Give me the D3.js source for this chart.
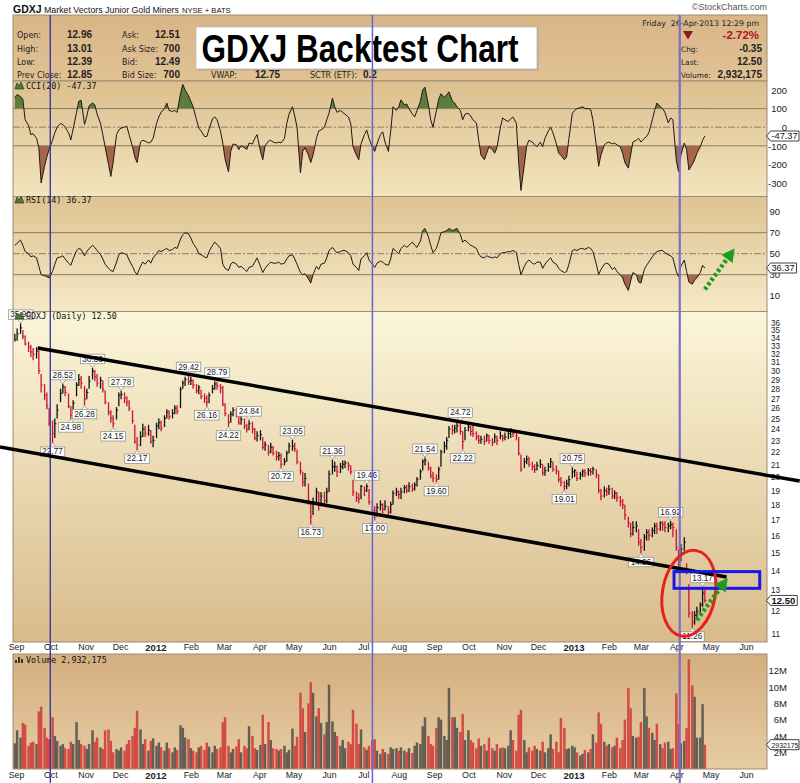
<!DOCTYPE html>
<html>
<head>
<meta charset="utf-8">
<script src="https://cdn.jsdelivr.net/npm/d3@7/dist/d3.min.js"></script>
<style>
html,body{margin:0;padding:0;background:#fff;}
svg{display:block;}
</style>
</head>
<body>
<svg id="chart" width="800" height="783"></svg>
<script>
// ================= DATA =================
// samples every Mon / Wed / Fri from firstDay to lastDay
const firstDay = "2011-08-31";
const lastDay  = "2013-04-26";

const closeP = [
33.8,34.5,35.3,34.2,33.2,32.8,32.2,31.9,32.3,30.0,28.4,27.3,26.2,24.6,
23.6,24.5,25.8,27.5,28.2,27.6,26.2,25.3,26.5,28.4,29.0,28.6,26.9,
27.6,28.8,29.9,29.3,28.6,28.9,27.9,26.6,25.6,25.0,24.5,25.8,27.3,
27.4,27.0,26.6,26.0,24.8,22.9,22.6,23.3,24.0,23.6,23.9,22.9,23.0,
24.3,24.6,24.1,25.0,25.6,25.2,25.5,26.0,25.7,27.9,28.6,29.0,28.8,
28.9,28.4,27.8,28.1,27.2,27.0,26.6,27.3,28.0,28.5,28.3,28.1,26.4,
25.5,24.6,25.4,25.8,25.6,24.6,24.9,24.3,24.0,24.5,24.0,23.2,23.4,
23.5,22.4,22.6,22.0,22.4,21.9,21.6,21.7,21.0,21.2,21.9,22.5,22.5,
22.3,21.2,20.5,19.6,19.9,18.3,17.2,18.2,18.9,18.0,18.6,18.3,18.9,
20.2,20.8,20.8,20.4,20.8,21.0,21.1,20.9,20.4,18.9,18.5,18.4,19.3,
19.0,19.3,18.2,17.6,17.4,17.8,18.0,17.7,17.9,17.5,18.0,18.8,18.9,
18.7,18.9,19.2,19.0,19.3,19.1,19.4,19.8,20.4,21.2,21.3,20.7,20.1,19.9,
19.8,20.6,22.0,22.5,23.0,24.0,23.9,24.1,24.3,23.8,22.9,23.9,
24.2,23.8,23.6,23.3,23.0,23.1,22.9,23.4,23.0,22.8,23.3,23.0,23.4,23.2,
23.3,23.6,23.8,23.6,23.4,21.9,20.6,21.2,21.4,21.0,20.8,20.6,20.9,
21.0,20.3,20.5,20.8,21.2,20.6,20.5,19.8,19.6,19.3,19.5,19.8,20.4,
20.5,19.9,20.2,20.4,20.3,20.5,20.4,20.6,20.2,19.0,18.6,19.0,18.9,
19.1,18.6,18.8,18.5,18.2,18.0,17.3,16.8,16.1,16.5,16.6,15.6,
15.3,15.9,16.2,16.0,16.3,16.6,16.4,16.8,16.7,16.5,16.6,16.7,16.5,
15.3,14.5,15.2,15.6,14.0,11.9,11.5,11.8,12.0,12.3,12.85,12.50
];
const highP = [
34.5,35.2,35.9,35.0,34.3,33.5,33.1,32.7,32.8,32.4,29.6,28.5,27.6,26.0,
24.8,25.0,26.4,28.0,28.52,28.3,27.5,26.2,26.8,28.7,29.6,29.4,28.3,
28.0,29.4,30.33,30.1,29.6,29.3,28.9,27.8,26.6,25.8,25.3,26.1,27.6,
27.78,27.6,27.2,26.8,25.8,24.4,23.3,23.8,24.5,24.3,24.4,23.9,23.4,
24.6,25.0,24.8,25.3,25.9,25.8,25.9,26.3,26.3,28.2,28.9,29.3,29.42,
29.3,29.0,28.5,28.4,27.9,27.5,27.3,27.6,28.4,28.8,28.79,28.5,28.3,
26.5,25.4,25.7,26.1,26.0,25.6,25.2,25.0,24.5,24.84,24.7,24.1,23.8,
23.9,23.3,22.9,22.6,22.8,22.5,22.1,22.0,21.9,21.5,22.1,22.8,23.05,
22.8,22.2,21.2,20.4,20.3,19.5,18.2,18.5,19.2,18.9,18.9,18.9,19.2,
20.5,21.36,21.2,20.9,21.1,21.3,21.3,21.2,20.9,19.8,18.9,18.8,19.4,
19.3,19.46,19.1,18.3,17.9,18.1,18.3,18.1,18.3,17.9,18.2,19.0,19.2,
19.0,19.2,19.4,19.4,19.6,19.5,19.6,20.0,20.6,21.4,21.54,21.2,20.8,20.4,
20.2,20.8,22.2,22.9,23.3,24.3,24.4,24.4,24.6,24.72,23.8,24.2,
24.5,24.3,24.5,23.8,23.5,23.4,23.4,23.6,23.5,23.2,23.6,23.4,23.8,23.5,
23.7,23.9,24.1,24.0,23.8,23.3,21.8,21.5,21.7,21.6,21.2,21.0,21.2,
21.4,21.0,20.8,21.1,21.5,21.2,20.9,20.5,20.0,19.7,19.8,20.1,20.75,
20.6,20.4,20.4,20.6,20.6,20.7,20.7,20.8,20.6,20.2,19.1,19.3,19.2,
19.4,19.2,19.0,18.9,18.6,18.4,18.0,17.2,16.8,16.9,16.9,16.4,
15.8,16.1,16.4,16.4,16.5,16.8,16.8,16.9,16.9,16.9,16.8,16.92,16.8,
16.4,15.2,15.5,15.9,14.4,13.3,12.0,12.0,12.2,12.4,13.17,13.01
];
const lowP = [
33.5,33.6,34.5,33.8,33.0,32.2,31.6,31.2,31.4,29.6,27.6,26.8,25.9,24.3,
22.77,23.2,25.0,26.6,27.5,27.2,26.0,24.98,25.4,27.2,28.3,28.0,26.28,
26.9,28.0,29.0,28.8,28.2,28.0,27.6,26.4,25.3,24.6,24.15,24.9,26.2,
26.9,26.5,26.2,25.7,24.5,22.7,22.17,22.5,23.3,23.3,23.4,22.7,22.4,
23.2,24.0,23.8,24.2,25.0,24.9,25.0,25.4,25.4,26.0,28.0,28.3,28.4,
28.4,28.0,27.5,27.4,26.9,26.5,26.16,26.5,27.5,27.9,27.9,27.5,26.2,
25.2,24.22,24.6,25.2,25.1,24.4,24.4,24.0,23.7,23.9,23.6,23.0,22.9,
23.0,22.2,22.1,21.7,21.9,21.7,21.3,21.3,20.72,20.9,21.2,21.9,22.1,
22.0,21.0,20.2,19.3,19.3,18.0,16.73,17.3,18.1,17.6,17.9,18.0,18.1,
18.9,20.2,20.4,20.0,20.3,20.6,20.7,20.5,20.2,18.6,18.2,18.1,18.4,
18.6,18.9,18.0,17.3,17.0,17.2,17.6,17.4,17.6,17.2,17.4,18.0,18.6,
18.4,18.4,18.8,18.8,18.9,18.9,19.0,19.3,19.8,20.5,20.9,20.5,19.9,19.6,
19.6,19.8,20.8,21.9,22.2,23.2,23.5,23.6,23.7,23.5,22.22,23.0,
23.8,23.4,23.3,23.0,22.7,22.7,22.6,22.9,22.7,22.5,22.8,22.6,23.1,22.9,
23.0,23.1,23.2,23.3,23.0,21.7,20.4,20.7,21.0,20.8,20.5,20.3,20.5,
20.7,20.1,20.1,20.4,20.7,20.4,20.2,19.6,19.3,19.01,19.1,19.3,19.9,
20.0,19.7,19.8,20.0,20.0,20.1,20.1,20.2,19.9,18.8,18.3,18.5,18.6,
18.7,18.4,18.4,18.2,17.9,17.7,17.0,16.5,15.9,16.0,16.2,15.4,
14.96,15.1,15.7,15.7,15.9,16.1,16.1,16.3,16.3,16.2,16.2,16.4,15.9,
15.1,14.2,14.5,15.1,13.8,11.7,11.26,11.4,11.6,11.9,12.2,12.39
];
const cciV = [
160,175,165,150,40,10,-40,-35,-60,-110,-300,-210,-160,-120,
-70,-30,0,20,15,0,-30,-68,-10,80,140,145,15,
60,115,130,120,70,20,-40,-105,-200,-265,-190,-40,-15,
-5,0,5,-40,-105,-160,-190,-80,-70,-75,-85,-80,-60,
20,55,80,100,130,90,85,90,80,180,230,200,170,
140,110,40,-5,-20,-50,-50,-10,45,55,40,-20,-85,
-170,-240,-130,-90,-95,-120,-100,-110,-120,-85,-90,-60,-40,
-130,-175,-100,-75,-70,-80,-85,-80,-85,-60,20,70,110,
60,0,-245,-130,-110,-150,-190,-150,-60,-20,-15,0,40,
75,157,110,80,90,80,70,55,20,-105,-150,-175,-90,
-40,-15,-60,-110,-130,-90,-40,-25,-80,-130,-20,110,90,
110,147,120,125,100,70,55,90,140,200,215,120,40,0,
90,150,180,160,175,190,140,130,110,90,40,70,
75,60,40,23,-68,-150,-175,-140,-105,-120,-140,-110,0,50,
40,30,45,55,20,-190,-340,-200,-100,-70,-80,-95,-105,
-80,-105,-60,-20,0,-30,-90,-140,-150,-175,-160,-60,75,
90,100,105,110,100,100,95,40,-100,-210,-150,-95,-85,
-80,-90,-85,-95,-105,-140,-190,-220,-150,-80,-70,-60,
-80,-60,-50,-30,40,90,130,110,100,80,23,50,40,
-180,-240,-150,-85,-120,-230,-200,-175,-140,-105,-70,-47.37
];
const rsiV = [
58,60,63,58,52,50,47,48,46,38,30,29,28,27,
33,40,46,47,48,45,41,39,45,53,55,54,48,
52,55,58,56,53,49,45,40,36,34,33,42,49,
51,50,49,44,38,33,30,38,42,40,44,41,46,
50,53,52,54,55,53,54,56,55,64,68,70,69,
65,60,55,50,49,47,46,52,58,61,59,55,40,
36,34,40,42,40,37,38,35,33,37,38,42,46,
38,32,36,40,42,41,41,42,40,41,45,48,49,
45,40,32,30,31,26,22,30,38,35,40,41,46,
53,56,53,51,52,53,53,51,48,40,37,34,45,
48,51,44,40,37,41,43,42,40,39,45,55,52,
50,55,58,56,58,61,58,56,62,72,74,66,58,51,
55,62,70,71,72,74,72,73,74,68,61,63,
60,58,57,55,50,47,46,48,47,46,47,46,50,51,
51,52,52,53,51,40,30,38,42,44,41,40,42,
42,36,40,44,46,42,40,36,34,32,33,40,53,
54,53,55,55,54,56,55,52,40,30,35,40,41,
40,35,37,33,30,27,21,15,24,32,30,23,
22,35,39,42,47,50,52,53,53,51,49,48,46,
33,28,38,44,33,23,21,25,27,32,39,36.37
];
const volM = [
3.1,4.7,3.8,5.6,5.4,2.8,3.2,3.3,3.0,7.0,7.6,5.0,3.8,3.6,
6.3,4.0,3.4,2.8,3.0,2.5,2.4,3.3,3.0,5.7,3.5,3.0,2.8,
2.4,3.0,4.7,3.3,3.8,2.6,2.4,4.7,4.8,3.4,2.0,2.4,2.2,
2.6,2.2,3.0,3.5,4.0,5.0,7.1,4.8,3.0,3.6,2.2,3.4,3.7,
2.8,3.2,2.6,2.2,3.2,2.5,2.0,2.6,2.3,5.3,5.0,3.8,3.6,
2.5,2.2,2.0,2.6,2.8,2.3,3.2,2.7,2.0,2.8,2.4,2.6,5.7,
6.3,2.8,2.0,2.4,2.7,3.6,2.0,2.8,2.5,5.2,4.0,2.5,2.3,
2.9,6.6,3.0,5.7,3.5,2.5,2.4,2.2,2.4,2.8,2.0,2.3,4.9,
2.8,3.9,9.3,7.4,4.5,8.0,10.6,9.3,6.4,7.4,5.6,4.2,5.7,
10.3,5.8,4.5,4.0,2.8,3.5,2.5,3.3,3.0,7.2,5.5,3.0,4.8,
2.6,2.3,2.8,3.5,3.6,2.2,1.8,2.4,2.0,1.8,2.6,2.4,2.5,
2.2,2.6,2.2,2.0,2.5,1.9,2.8,3.2,3.0,5.2,6.3,4.0,3.0,2.8,
5.0,6.3,6.0,4.0,3.5,9.9,6.3,6.3,5.0,4.5,6.7,3.5,
4.7,3.5,3.2,2.5,3.7,2.8,3.0,2.2,3.8,2.5,2.2,3.0,2.5,2.6,
2.5,2.8,4.7,3.5,2.2,6.6,7.2,3.5,2.0,2.6,2.2,2.8,2.4,
2.2,3.3,2.0,2.5,4.2,2.4,3.3,2.0,6.2,5.0,2.4,2.5,2.8,
2.6,2.0,1.6,1.8,2.3,2.0,2.4,4.2,3.2,6.9,5.5,3.3,2.8,
3.0,2.6,2.8,3.8,2.5,3.5,6.0,9.9,7.4,4.0,3.8,3.9,
5.7,9.9,6.4,5.0,4.4,3.5,5.5,3.0,2.5,3.2,3.3,2.4,2.5,
9.2,5.5,3.1,3.4,5.0,13.4,10.2,8.8,3.8,3.8,7.9,2.93
];

// axis ticks
const cciTicks = [200,100,0,-100,-200,-300];
const rsiTicks = [90,70,50,30,10];
const priceTicks = [11,12,13,14,15,16,17,18,19,20,21,22,23,24,25,26,27,28,29,30,31,32,33,34,35,36];
const volTicks = [2,4,6,8,10,12];
const monthStart = "2011-09-01", monthEnd = "2013-06-01";

// price annotations: date, value, hi/lo
const peakLabels = [
["2011-09-05",35.90,"hi"],["2011-10-03",22.77,"lo"],["2011-10-12",28.52,"hi"],["2011-10-19",24.98,"lo"],
["2011-10-31",26.28,"lo"],["2011-11-07",30.33,"hi"],["2011-11-25",24.15,"lo"],["2011-12-02",27.78,"hi"],
["2011-12-16",22.17,"lo"],["2012-01-30",29.42,"hi"],["2012-02-15",26.16,"lo"],["2012-02-24",28.79,"hi"],
["2012-03-05",24.22,"lo"],["2012-03-23",24.84,"hi"],["2012-04-20",20.72,"lo"],["2012-04-30",23.05,"hi"],
["2012-05-16",16.73,"lo"],["2012-06-04",21.36,"hi"],["2012-07-04",19.46,"hi"],["2012-07-11",17.00,"lo"],
["2012-08-24",21.54,"hi"],["2012-09-03",19.60,"lo"],["2012-09-24",24.72,"hi"],["2012-09-26",22.22,"lo"],
["2012-12-24",19.01,"lo"],["2012-12-31",20.75,"hi"],["2013-03-01",14.96,"lo"],["2013-03-27",16.92,"hi"],
["2013-04-24",13.17,"hi"],["2013-04-15",11.26,"lo"]
];
const markerDates = ["2011-10-01","2012-07-09","2013-04-04"];
const trendUpper = [["2011-09-20",32.7],["2013-07-18",19.7]];
const trendLower = [["2011-08-18",22.42],["2013-05-15",13.67]];
const circleDates = ["2013-03-19","2013-05-06"], circlePrices = [15.15,10.89];
const boxDates = ["2013-03-30","2013-06-13"], boxPrices = [13.95,13.09];
const arrowPrice = [["2013-04-19",11.6],["2013-05-16",13.62]];
const arrowRsi = [["2013-04-26",16],["2013-05-22",55]];

// header quote
const quoteCol1 = [["Open:","12.96"],["High:","13.01"],["Low:","12.39"],["Prev Close:","12.85"]];
const quoteCol2 = [["Ask:","12.51"],["Ask Size:","700"],["Bid:","12.49"],["Bid Size:","700"]];
const quoteRow4 = [["VWAP:","12.75"],["SCTR (ETF):","0.2"]];
const quoteRight = [["Chg:","-0.35"],["Last:","12.50"],["Volume:","2,932,175"]];
const lastCci = -47.37, lastRsi = 36.37, lastPrice = 12.50, lastVol = 2.932175;

// ================= DRAW =================
const FS = "'Liberation Sans', Arial, Helvetica, sans-serif";
const FV = "'DejaVu Sans', Verdana, sans-serif";
const FM = "'DejaVu Sans Mono', monospace";
const svg = d3.select("#chart");
const parse = d3.timeParse("%Y-%m-%d");
const dates = d3.timeDay.range(parse(firstDay), d3.timeDay.offset(parse(lastDay),1)).filter(d => d.getDay() % 2 === 1);
const N = Math.min(dates.length, closeP.length, highP.length, lowP.length, cciV.length, rsiV.length, volM.length);
const rows = d3.range(N).map(i => ({d:dates[i], c:closeP[i], h:highP[i], l:lowP[i], cci:cciV[i], rsi:rsiV[i], v:volM[i],
  up: i===0 ? true : closeP[i] >= closeP[i-1]}));

const PL = 13, PR = 767;
const P = {hdr:[15,81], cci:[81,196.5], rsi:[196.5,311.5], price:[311.5,642], vol:[654,769]};

const x  = d3.scaleTime().domain([parse(monthStart), parse(monthEnd)]).range([16,746]);
const yC = d3.scaleLinear().domain([-300,200]).range([183,90]);
const yR = d3.scaleLinear().domain([10,90]).range([295.7,211.7]);
const yP = d3.scaleLog().domain([11,36]).range([634,322.7]);
const yV = d3.scaleLinear().domain([0,12]).range([768.6,670.7]);

const defs = svg.append("defs");
function grad(id, c1, c2){
  const g = defs.append("linearGradient").attr("id",id).attr("x1",0).attr("y1",0).attr("x2",0).attr("y2",1);
  g.append("stop").attr("offset","0%").attr("stop-color",c1);
  g.append("stop").attr("offset","100%").attr("stop-color",c2);
}
grad("gHdr","#d8b587","#e0c295");
grad("gCci","#ddbf8e","#f2e4bd");
grad("gRsi","#dfc392","#f4e9c6");
grad("gPrice","#fbf6d8","#d9bb8c");
grad("gVol","#d4ae7f","#e6cca2");
function clip(id, y0, y1){
  defs.append("clipPath").attr("id",id).append("rect").attr("x",PL).attr("y",y0).attr("width",PR-PL).attr("height",y1-y0);
}

// panels
[["hdr","gHdr"],["cci","gCci"],["rsi","gRsi"],["price","gPrice"],["vol","gVol"]].forEach(([k,g])=>{
  svg.append("rect").attr("x",PL).attr("y",P[k][0]).attr("width",PR-PL).attr("height",P[k][1]-P[k][0])
    .attr("fill",`url(#${g})`).attr("stroke","#9c8b75").attr("stroke-width",1);
});

// top titles
svg.append("text").attr("x",13).attr("y",12.5).attr("font-family",FS).attr("font-size",10.5).attr("font-weight","bold").attr("fill","#111").text("GDXJ");
svg.append("text").attr("x",44).attr("y",12.5).attr("font-family",FS).attr("font-size",8.8).attr("fill","#111").text("Market Vectors Junior Gold Miners");
svg.append("text").attr("x",182).attr("y",12.5).attr("font-family",FS).attr("font-size",7.6).attr("fill","#111").text("NYSE + BATS");
svg.append("text").attr("x",767).attr("y",10).attr("text-anchor","end").attr("font-family",FS).attr("font-size",9).attr("fill","#555").text("\u00a9StockCharts.com");

// title box (drawn before quote texts)
svg.append("rect").attr("x",197.5).attr("y",28.5).attr("width",341).attr("height",42).attr("fill","#b8a486");
svg.append("rect").attr("x",196).attr("y",27).attr("width",341).attr("height",42).attr("fill","#fff").attr("stroke","#bbb").attr("stroke-width",0.8);
svg.append("text").attr("x",201.5).attr("y",61.5).attr("font-family",FS).attr("font-weight","bold").attr("font-size",38)
  .attr("textLength",317).attr("lengthAdjust","spacingAndGlyphs").attr("fill","#000").text("GDXJ Backtest Chart");

// header quote
const rowY = [38,51.5,64.5,78];
quoteCol1.forEach((q,i)=>{
  svg.append("text").attr("x",17).attr("y",rowY[i]).attr("font-family",FV).attr("font-size",8).attr("fill","#222").text(q[0]);
  svg.append("text").attr("x",67).attr("y",rowY[i]).attr("font-family",FS).attr("font-size",10).attr("font-weight","bold").attr("fill","#222").text(q[1]);
});
quoteCol2.forEach((q,i)=>{
  svg.append("text").attr("x",122).attr("y",rowY[i]).attr("font-family",FV).attr("font-size",8).attr("fill","#222").text(q[0]);
  svg.append("text").attr("x",180).attr("y",rowY[i]).attr("text-anchor","end").attr("font-family",FS).attr("font-size",10).attr("font-weight","bold").attr("fill","#222").text(q[1]);
});
[[211,255],[310,363]].forEach((p,i)=>{
  svg.append("text").attr("x",p[0]).attr("y",rowY[3]).attr("font-family",FV).attr("font-size",8).attr("fill","#222").text(quoteRow4[i][0]);
  svg.append("text").attr("x",p[1]).attr("y",rowY[3]).attr("font-family",FS).attr("font-size",10).attr("font-weight","bold").attr("fill","#222").text(quoteRow4[i][1]);
});
svg.append("text").attr("x",759).attr("y",26).attr("text-anchor","end").attr("font-family",FV).attr("font-size",7.8).attr("fill","#222").attr("xml:space","preserve").text("Friday  26-Apr-2013 12:29 pm");
svg.append("path").attr("d","M683,31 L693,31 L688,39.5 Z").attr("fill","#8e1428");
svg.append("text").attr("x",759).attr("y",39).attr("text-anchor","end").attr("font-family",FS).attr("font-size",11.5).attr("font-weight","bold").attr("fill","#b0102e").text("-2.72%");
quoteRight.forEach((q,i)=>{
  svg.append("text").attr("x",681).attr("y",rowY[i+1]).attr("font-family",FV).attr("font-size",7.4).attr("fill","#222").text(q[0]);
  svg.append("text").attr("x",762).attr("y",rowY[i+1]).attr("text-anchor","end").attr("font-family",FS).attr("font-size",10).attr("font-weight","bold").attr("fill","#222").text(q[1]);
});

// ---------- reference lines ----------
function hline(yy, dashed){
  svg.append("line").attr("x1",PL).attr("x2",PR).attr("y1",yy).attr("y2",yy)
    .attr("stroke","#8e7e6a").attr("stroke-width",1).attr("stroke-dasharray",dashed?"7,2,2,2":null);
}
hline(yC(100)); hline(yC(-100)); hline(yC(0),true);
hline(yR(70)); hline(yR(30)); hline(yR(50),true);

// ---------- CCI ----------
clip("cciUp", P.cci[0], yC(100));
clip("cciDn", yC(-100), P.cci[1]);
svg.append("path").datum(rows).attr("clip-path","url(#cciUp)").attr("fill","#5e7d3c")
  .attr("d", d3.area().x(r=>x(r.d)).y0(yC(100)).y1(r=>yC(r.cci)));
svg.append("path").datum(rows).attr("clip-path","url(#cciDn)").attr("fill","#a5654b")
  .attr("d", d3.area().x(r=>x(r.d)).y0(yC(-100)).y1(r=>yC(r.cci)));
svg.append("path").datum(rows).attr("fill","none").attr("stroke","#1a1a1a").attr("stroke-width",1)
  .attr("d", d3.line().x(r=>x(r.d)).y(r=>yC(r.cci)));

// ---------- RSI ----------
clip("rsiUp", P.rsi[0], yR(70));
clip("rsiDn", yR(30), P.rsi[1]);
svg.append("path").datum(rows).attr("clip-path","url(#rsiUp)").attr("fill","#5e7d3c")
  .attr("d", d3.area().x(r=>x(r.d)).y0(yR(70)).y1(r=>yR(r.rsi)));
svg.append("path").datum(rows).attr("clip-path","url(#rsiDn)").attr("fill","#a5654b")
  .attr("d", d3.area().x(r=>x(r.d)).y0(yR(30)).y1(r=>yR(r.rsi)));
svg.append("path").datum(rows).attr("fill","none").attr("stroke","#1a1a1a").attr("stroke-width",1)
  .attr("d", d3.line().x(r=>x(r.d)).y(r=>yR(r.rsi)));

// ---------- Price bars ----------
const gp = svg.append("g");
gp.selectAll("line.hl").data(rows).join("line").attr("class","hl")
  .attr("x1",r=>x(r.d)).attr("x2",r=>x(r.d)).attr("y1",r=>yP(r.h)).attr("y2",r=>yP(r.l))
  .attr("stroke",r=>r.up?"#111":"#cc1133").attr("stroke-width",1.3);
gp.selectAll("line.cl").data(rows).join("line").attr("class","cl")
  .attr("x1",r=>x(r.d)).attr("x2",r=>x(r.d)+1.6).attr("y1",r=>yP(r.c)).attr("y2",r=>yP(r.c))
  .attr("stroke",r=>r.up?"#111":"#cc1133").attr("stroke-width",1);

// ---------- Volume ----------
svg.append("g").selectAll("rect").data(rows).join("rect")
  .attr("x",r=>x(r.d)-1.25).attr("width",2.5).attr("y",r=>yV(r.v)).attr("height",r=>yV(0)-yV(r.v))
  .attr("fill",r=>r.up?"#645e55":"#d24b45");

// ---------- axes ----------
function rightAxis(scale, ticks, fmt, xEnd, fsz){
  const g = svg.append("g").attr("transform",`translate(${PR},0)`)
    .call(d3.axisRight(scale).tickValues(ticks).tickSize(0).tickFormat(fmt));
  g.select(".domain").remove();
  g.attr("font-family",FS).attr("font-size",fsz);
  g.selectAll("text").attr("x",xEnd-PR).attr("text-anchor","end").attr("fill","#222").attr("dy","0.34em");
}
rightAxis(yC, cciTicks, d=>d, 787, 9.5);
rightAxis(yR, rsiTicks, d=>d, 780, 9.5);
rightAxis(yP, priceTicks, d=>d, 780, 8.2);
rightAxis(yV, volTicks, d=>d+"M", 787, 9.5);

const months = d3.timeMonth.range(parse(monthStart), d3.timeDay.offset(parse(monthEnd),1));
[642,770].forEach(ty=>{
  const g = svg.append("g").attr("transform",`translate(0,${ty})`)
    .call(d3.axisBottom(x).tickValues(months).tickSize(0).tickPadding(2)
      .tickFormat(d=>d.getMonth()===0 ? d3.timeFormat("%Y")(d) : d3.timeFormat("%b")(d)));
  g.select(".domain").remove();
  g.attr("font-family",FS).attr("font-size",8.8);
  g.selectAll("text").attr("fill","#222").attr("font-weight",d=>d.getMonth()===0?"bold":"normal")
    .attr("font-size",d=>d.getMonth()===0?9.5:8.8);
});

// ---------- peak labels ----------
const gl = svg.append("g");
peakLabels.forEach(([ds,val,type])=>{
  const px = x(parse(ds)), py = yP(val);
  const t = val.toFixed(2);
  const g = gl.append("g");
  const txt = g.append("text").attr("font-family",FS).attr("font-size",8.2).attr("fill","#222")
    .attr("text-anchor","middle").text(t);
  const w = txt.node().getComputedTextLength()+4, bh = 9.5;
  const by = type==="hi" ? py-4-bh : py+4;
  const tipY = type==="hi" ? py-0.5 : py+0.5;
  const baseY = type==="hi" ? by+bh : by;
  g.insert("path","text").attr("d",`M${px-3},${baseY} L${px},${tipY} L${px+3},${baseY}`).attr("fill","#fff").attr("stroke","#888").attr("stroke-width",0.7);
  g.insert("rect","text").attr("x",px-w/2).attr("y",by).attr("width",w).attr("height",bh).attr("fill","#fff").attr("stroke","#888").attr("stroke-width",0.7);
  txt.attr("x",px).attr("y",by+bh-2);
});

// ---------- panel legends ----------
function mountain(x0,y0){
  svg.append("path").attr("d",`M${x0},${y0} L${x0+2},${y0-6} L${x0+4},${y0-3} L${x0+6},${y0-7} L${x0+9},${y0} Z`)
    .attr("fill","#4e7a34").attr("stroke","#2d3d22").attr("stroke-width",0.7);
}
mountain(15,89); mountain(15,203); mountain(15,319);
[0,3,6].forEach((o,i)=>svg.append("rect").attr("x",15+o).attr("y",657+[3,0,2][i]).attr("width",2).attr("height",6-[3,0,2][i]).attr("fill","#333"));
[["CCI(20) -47.37",89],["RSI(14) 36.37",203],["GDXJ (Daily) 12.50",319],["Volume 2,932,175",663]].forEach(([t,yy])=>{
  svg.append("text").attr("x",26).attr("y",yy).attr("font-family",FM).attr("font-size",8.4).attr("fill","#111").text(t);
});

// ---------- right value tags ----------
function tag(yy, txt, bold, fsz){
  const g = svg.append("g");
  const t = g.append("text").attr("x",771.5).attr("y",yy+3.2).attr("font-family",FS).attr("font-size",fsz)
    .attr("font-weight",bold?"bold":"normal").attr("fill","#111").text(txt);
  const w = t.node().getComputedTextLength();
  g.insert("path","text").attr("d",`M766.5,${yy} L770.5,${yy-5} H${Math.min(773.5+w,799)} V${yy+5} H770.5 Z`)
    .attr("fill","#fff").attr("stroke","#111").attr("stroke-width",0.8);
}
tag(yC(lastCci), lastCci.toFixed(2), false, 9.2);
tag(yR(lastRsi), lastRsi.toFixed(2), false, 9.2);
tag(yP(lastPrice), lastPrice.toFixed(2), true, 9.5);
tag(yV(lastVol), String(Math.round(lastVol*1e6)), false, 6.9);

// ---------- vertical marker lines ----------
const markerStyle = [["#2e2ea6",1.3],["#6464dc",1.5],["#7c6ec6",2.2]];
markerDates.forEach((ds,i)=>{
  const xx = x(parse(ds));
  svg.append("line").attr("x1",xx).attr("x2",xx).attr("y1",15).attr("y2",783)
    .attr("stroke",markerStyle[i][0]).attr("stroke-width",markerStyle[i][1]);
});

// ---------- trend lines ----------
[trendUpper,trendLower].forEach(tl=>{
  svg.append("line").attr("x1",x(parse(tl[0][0]))).attr("y1",yP(tl[0][1]))
    .attr("x2",x(parse(tl[1][0]))).attr("y2",yP(tl[1][1]))
    .attr("stroke","#000").attr("stroke-width",3.5);
});

// ---------- ellipse and box ----------
{
  const x0 = x(parse(circleDates[0])), x1 = x(parse(circleDates[1]));
  const y0 = yP(circlePrices[0]), y1 = yP(circlePrices[1]);
  const cx = (x0+x1)/2, cy = (y0+y1)/2;
  svg.append("ellipse").attr("cx",cx).attr("cy",cy).attr("rx",(x1-x0)/2-1).attr("ry",(y1-y0)/2)
    .attr("transform",`rotate(10,${cx},${cy})`).attr("fill","none").attr("stroke","#e8201c").attr("stroke-width",3);
  const bx0 = x(parse(boxDates[0])), bx1 = x(parse(boxDates[1]));
  const by0 = yP(boxPrices[0]), by1 = yP(boxPrices[1]);
  svg.append("rect").attr("x",bx0).attr("y",by0).attr("width",bx1-bx0).attr("height",by1-by0)
    .attr("fill","none").attr("stroke","#1717e6").attr("stroke-width",3);
}

// ---------- green arrows ----------
function arrow(p0,p1){
  const dx=p1[0]-p0[0], dy=p1[1]-p0[1], len=Math.hypot(dx,dy), ux=dx/len, uy=dy/len;
  const hl=13, hw=7;
  const bx=p1[0]-ux*hl, by=p1[1]-uy*hl;
  svg.append("line").attr("x1",p0[0]).attr("y1",p0[1]).attr("x2",bx).attr("y2",by)
    .attr("stroke","#1e9b1e").attr("stroke-width",4.5).attr("stroke-dasharray","3,2.5");
  svg.append("path").attr("d",`M${p1[0]},${p1[1]} L${bx-uy*hw},${by+ux*hw} L${bx+uy*hw},${by-ux*hw} Z`).attr("fill","#1e9b1e");
}
arrow([x(parse(arrowPrice[0][0])),yP(arrowPrice[0][1])],[x(parse(arrowPrice[1][0])),yP(arrowPrice[1][1])]);
arrow([x(parse(arrowRsi[0][0])),yR(arrowRsi[0][1])],[x(parse(arrowRsi[1][0])),yR(arrowRsi[1][1])]);
</script>
</body>
</html>
